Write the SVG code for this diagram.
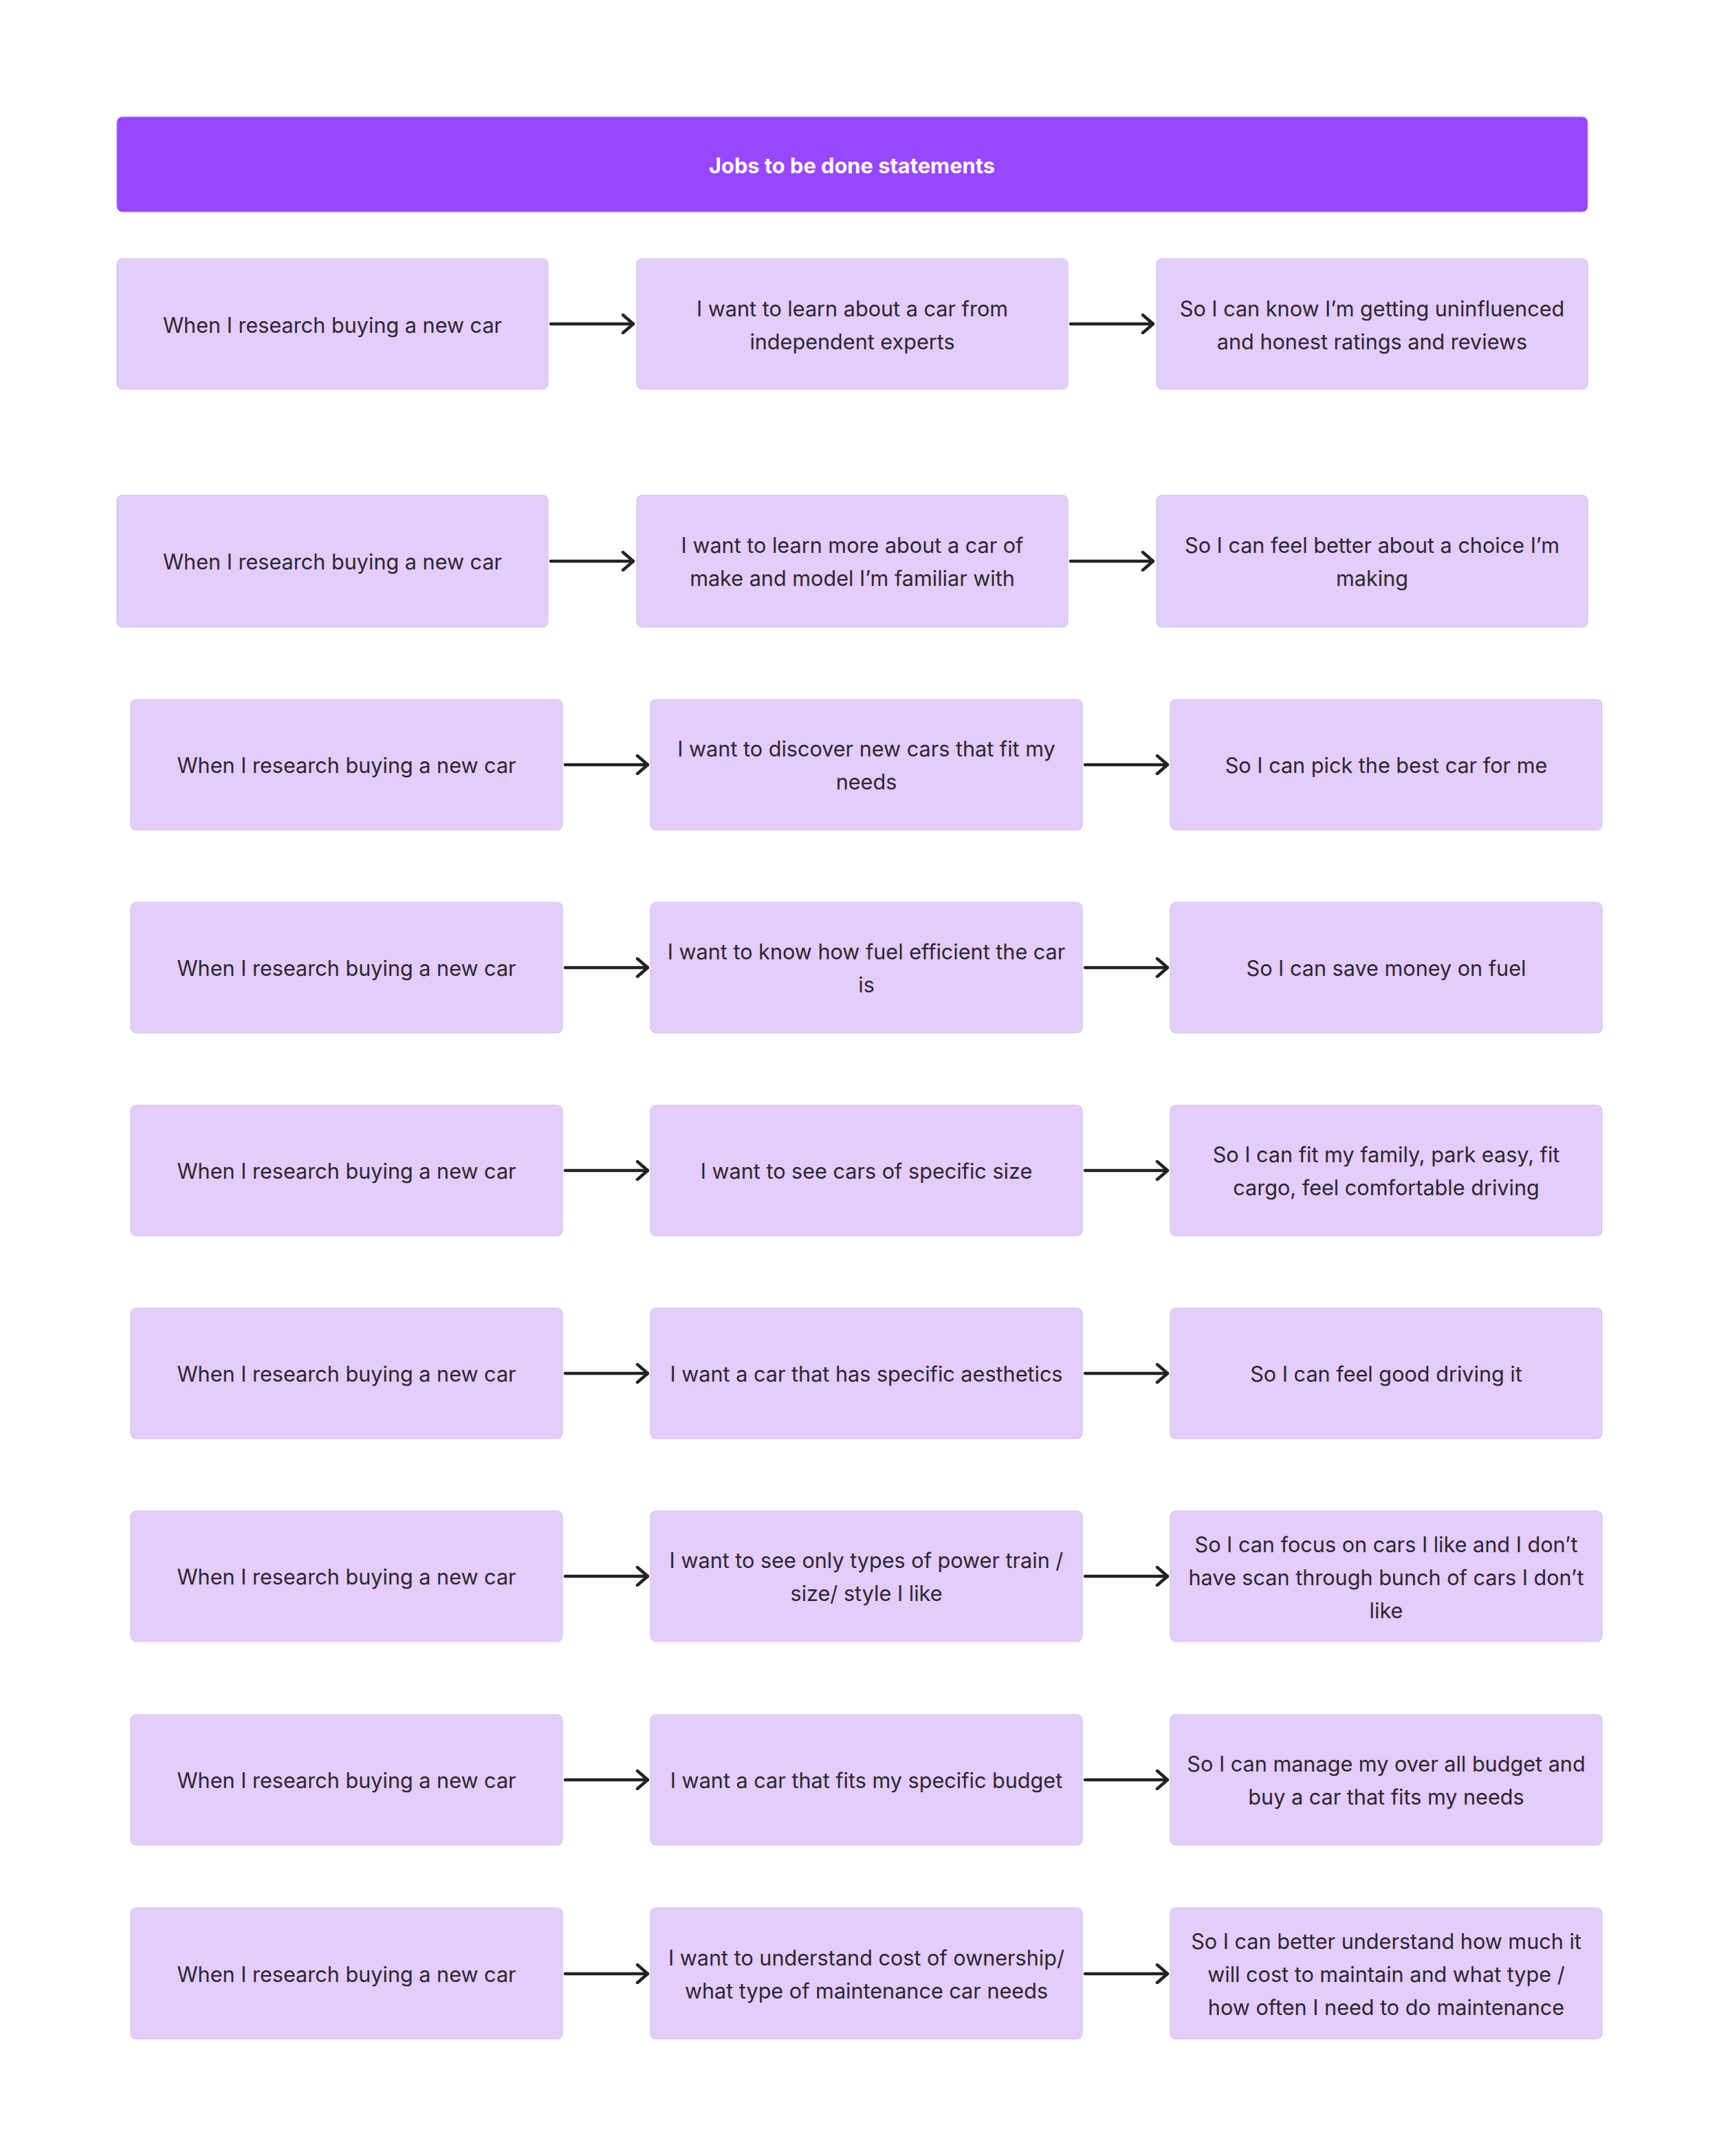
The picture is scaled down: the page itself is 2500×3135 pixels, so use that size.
<svg xmlns="http://www.w3.org/2000/svg" width="2500" height="3135" viewBox="0 0 2500 3135">
<defs>
<style>
.box{fill:#e4ccfd;stroke:#d2c6da;stroke-width:1.2}
.hdr{fill:#9747ff;stroke:#a98bd6;stroke-width:1}
.t{font-family:Inter,"Noto Sans","Liberation Sans",sans-serif;font-size:30.6px;fill:#2b2631;text-anchor:middle;dominant-baseline:central}
.ht{font-family:Inter,"Noto Sans","Liberation Sans",sans-serif;font-size:30.8px;font-weight:700;fill:#ffffff;text-anchor:middle;dominant-baseline:central}
.c{stroke:#222222;stroke-width:4.5;fill:none;stroke-linecap:round;stroke-linejoin:round}
</style>
<marker id="ah" viewBox="0 0 20 30" refX="18" refY="15" markerWidth="20" markerHeight="30" markerUnits="userSpaceOnUse" orient="auto">
<path d="M3,2 L18,15 L3,28" fill="none" stroke="#222222" stroke-width="4.5" stroke-linecap="round" stroke-linejoin="round"/>
</marker>
</defs>
<rect width="2500" height="3135" fill="#ffffff"/>
<g id="header">
<rect class="hdr" x="170" y="170" width="2139" height="138" rx="8"/>
<text class="ht" x="1239" y="240">Jobs to be done statements</text>
</g>

<g id="r1c1"><rect class="box" x="170" y="376" width="627" height="190" rx="8"/><text class="t" x="483.5" y="472">When I research buying a new car</text></g>
<g id="r1c2"><rect class="box" x="926" y="376" width="627" height="190" rx="8"/><text class="t" x="1239.5" y="448">I want to learn about a car from</text><text class="t" x="1239.5" y="496">independent experts</text></g>
<g id="r1c3"><rect class="box" x="1682" y="376" width="627" height="190" rx="8"/><text class="t" x="1995.5" y="448">So I can know I’m getting uninfluenced</text><text class="t" x="1995.5" y="496">and honest ratings and reviews</text></g>

<g id="r2c1"><rect class="box" x="170" y="720" width="627" height="192" rx="8"/><text class="t" x="483.5" y="816">When I research buying a new car</text></g>
<g id="r2c2"><rect class="box" x="926" y="720" width="627" height="192" rx="8"/><text class="t" x="1239.5" y="792">I want to learn more about a car of</text><text class="t" x="1239.5" y="840">make and model I’m familiar with</text></g>
<g id="r2c3"><rect class="box" x="1682" y="720" width="627" height="192" rx="8"/><text class="t" x="1995.5" y="792">So I can feel better about a choice I’m</text><text class="t" x="1995.5" y="840">making</text></g>

<g id="r3c1"><rect class="box" x="190" y="1017" width="628" height="190" rx="8"/><text class="t" x="504" y="1112">When I research buying a new car</text></g>
<g id="r3c2"><rect class="box" x="946" y="1017" width="628" height="190" rx="8"/><text class="t" x="1260" y="1088">I want to discover new cars that fit my</text><text class="t" x="1260" y="1136">needs</text></g>
<g id="r3c3"><rect class="box" x="1702" y="1017" width="628" height="190" rx="8"/><text class="t" x="2016" y="1112">So I can pick the best car for me</text></g>

<g id="r4c1"><rect class="box" x="190" y="1312" width="628" height="190" rx="8"/><text class="t" x="504" y="1407">When I research buying a new car</text></g>
<g id="r4c2"><rect class="box" x="946" y="1312" width="628" height="190" rx="8"/><text class="t" x="1260" y="1383">I want to know how fuel efficient the car</text><text class="t" x="1260" y="1431">is</text></g>
<g id="r4c3"><rect class="box" x="1702" y="1312" width="628" height="190" rx="8"/><text class="t" x="2016" y="1407">So I can save money on fuel</text></g>

<g id="r5c1"><rect class="box" x="190" y="1607" width="628" height="190" rx="8"/><text class="t" x="504" y="1702">When I research buying a new car</text></g>
<g id="r5c2"><rect class="box" x="946" y="1607" width="628" height="190" rx="8"/><text class="t" x="1260" y="1702">I want to see cars of specific size</text></g>
<g id="r5c3"><rect class="box" x="1702" y="1607" width="628" height="190" rx="8"/><text class="t" x="2016" y="1678">So I can fit my family, park easy, fit</text><text class="t" x="2016" y="1726">cargo, feel comfortable driving</text></g>

<g id="r6c1"><rect class="box" x="190" y="1902" width="628" height="190" rx="8"/><text class="t" x="504" y="1997">When I research buying a new car</text></g>
<g id="r6c2"><rect class="box" x="946" y="1902" width="628" height="190" rx="8"/><text class="t" x="1260" y="1997">I want a car that has specific aesthetics</text></g>
<g id="r6c3"><rect class="box" x="1702" y="1902" width="628" height="190" rx="8"/><text class="t" x="2016" y="1997">So I can feel good driving it</text></g>

<g id="r7c1"><rect class="box" x="190" y="2197" width="628" height="190" rx="8"/><text class="t" x="504" y="2292">When I research buying a new car</text></g>
<g id="r7c2"><rect class="box" x="946" y="2197" width="628" height="190" rx="8"/><text class="t" x="1260" y="2268">I want to see only types of power train /</text><text class="t" x="1260" y="2316">size/ style I like</text></g>
<g id="r7c3"><rect class="box" x="1702" y="2197" width="628" height="190" rx="8"/><text class="t" x="2016" y="2245">So I can focus on cars I like and I don’t</text><text class="t" x="2016" y="2293">have scan through bunch of cars I don’t</text><text class="t" x="2016" y="2341">like</text></g>

<g id="r8c1"><rect class="box" x="190" y="2493" width="628" height="190" rx="8"/><text class="t" x="504" y="2588">When I research buying a new car</text></g>
<g id="r8c2"><rect class="box" x="946" y="2493" width="628" height="190" rx="8"/><text class="t" x="1260" y="2588">I want a car that fits my specific budget</text></g>
<g id="r8c3"><rect class="box" x="1702" y="2493" width="628" height="190" rx="8"/><text class="t" x="2016" y="2564">So I can manage my over all budget and</text><text class="t" x="2016" y="2612">buy a car that fits my needs</text></g>

<g id="r9c1"><rect class="box" x="190" y="2774" width="628" height="191" rx="8"/><text class="t" x="504" y="2870">When I research buying a new car</text></g>
<g id="r9c2"><rect class="box" x="946" y="2774" width="628" height="191" rx="8"/><text class="t" x="1260" y="2846">I want to understand cost of ownership/</text><text class="t" x="1260" y="2894">what type of maintenance car needs</text></g>
<g id="r9c3"><rect class="box" x="1702" y="2774" width="628" height="191" rx="8"/><text class="t" x="2016" y="2822">So I can better understand how much it</text><text class="t" x="2016" y="2870">will cost to maintain and what type /</text><text class="t" x="2016" y="2918">how often I need to do maintenance</text></g>

<g id="connectors">
<line class="c" x1="801" y1="471" x2="921" y2="471" marker-end="url(#ah)"/>
<line class="c" x1="1557" y1="471" x2="1677" y2="471" marker-end="url(#ah)"/>
<line class="c" x1="801" y1="816" x2="921" y2="816" marker-end="url(#ah)"/>
<line class="c" x1="1557" y1="816" x2="1677" y2="816" marker-end="url(#ah)"/>
<line class="c" x1="822" y1="1112" x2="942" y2="1112" marker-end="url(#ah)"/>
<line class="c" x1="1578" y1="1112" x2="1698" y2="1112" marker-end="url(#ah)"/>
<line class="c" x1="822" y1="1407" x2="942" y2="1407" marker-end="url(#ah)"/>
<line class="c" x1="1578" y1="1407" x2="1698" y2="1407" marker-end="url(#ah)"/>
<line class="c" x1="822" y1="1702" x2="942" y2="1702" marker-end="url(#ah)"/>
<line class="c" x1="1578" y1="1702" x2="1698" y2="1702" marker-end="url(#ah)"/>
<line class="c" x1="822" y1="1997" x2="942" y2="1997" marker-end="url(#ah)"/>
<line class="c" x1="1578" y1="1997" x2="1698" y2="1997" marker-end="url(#ah)"/>
<line class="c" x1="822" y1="2292" x2="942" y2="2292" marker-end="url(#ah)"/>
<line class="c" x1="1578" y1="2292" x2="1698" y2="2292" marker-end="url(#ah)"/>
<line class="c" x1="822" y1="2588" x2="942" y2="2588" marker-end="url(#ah)"/>
<line class="c" x1="1578" y1="2588" x2="1698" y2="2588" marker-end="url(#ah)"/>
<line class="c" x1="822" y1="2870" x2="942" y2="2870" marker-end="url(#ah)"/>
<line class="c" x1="1578" y1="2870" x2="1698" y2="2870" marker-end="url(#ah)"/>
</g>
</svg>
